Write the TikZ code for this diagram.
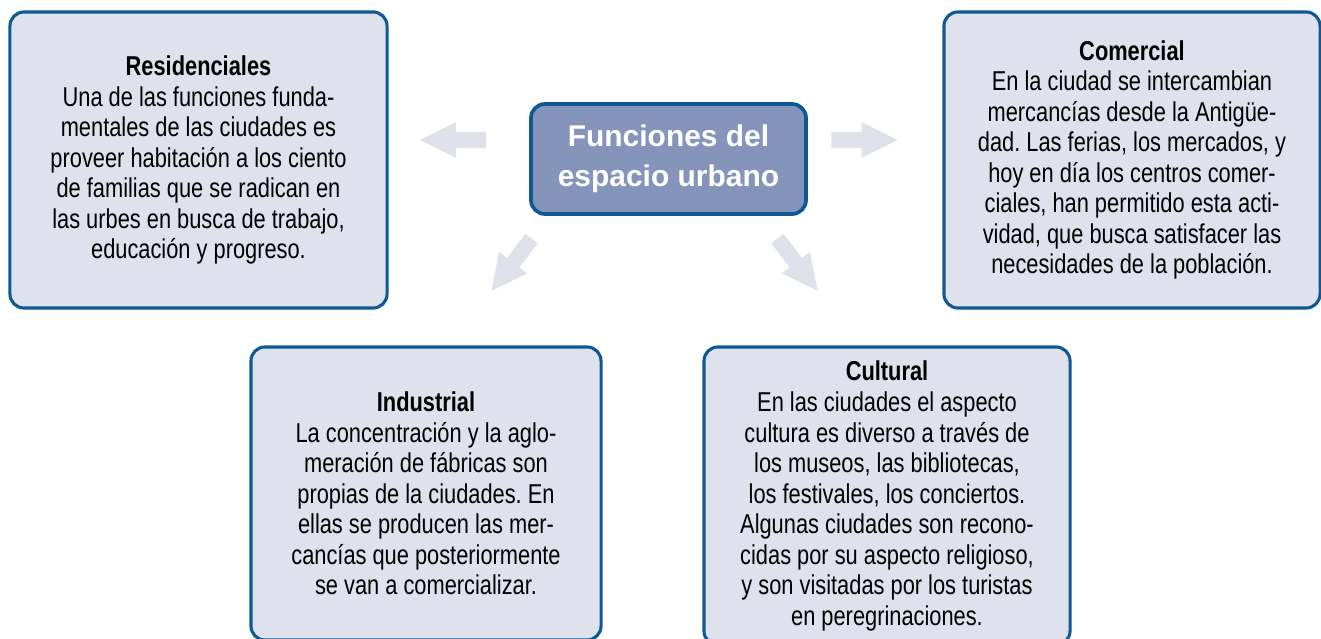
\documentclass[tikz,border=0pt]{standalone}
\usepackage{fontspec}
\setmainfont{Liberation Sans}
\newfontfamily\condfont{Liberation Sans}[FakeStretch=0.8]
\usetikzlibrary{shapes.arrows}
\frenchspacing

\definecolor{boxline}{RGB}{14,88,150}
\definecolor{boxfill}{RGB}{223,226,236}
\definecolor{mainfill}{RGB}{132,148,187}
\definecolor{arrowfill}{RGB}{223,225,234}

\begin{document}
\begin{tikzpicture}[
        x=0.025cm, y=0.025cm,
        box/.style={rectangle, draw=boxline, fill=boxfill, line width=2.2pt, rounded corners=0.35cm, align=center, inner sep=0pt, font=\condfont\fontsize{19.4}{21.7}\selectfont},
        mainbox/.style={rectangle, draw=boxline, fill=mainfill, line width=2.6pt, rounded corners=0.35cm, align=center, inner sep=0pt, text=white, font=\bfseries\fontsize{21.3}{28.5}\selectfont},
        bigarrow/.style={single arrow, fill=arrowfill, draw=none, inner sep=0.1875cm, minimum width=0.875cm, minimum height=1.65cm, single arrow head extend=0.25cm, single arrow tip angle=53}
    ]
    \useasboundingbox (0,0) rectangle (1321,638);

    % Nodes
    \node (center) [mainbox, minimum width=6.875cm, minimum height=2.75cm] at (668.5,479) {Funciones del\\espacio urbano};
    \node (resid) [box, minimum width=9.425cm, minimum height=7.4cm] at (198.5,478) {{\bfseries Residenciales}\\Una de las funciones funda-\\mentales de las ciudades es\\proveer habitación a los ciento\\de familias que se radican en\\las urbes en busca de trabajo,\\educación y progreso.};
    \node (comer) [box, minimum width=9.4cm, minimum height=7.4cm] at (1132,478) {{\bfseries Comercial}\\En la ciudad se intercambian\\mercancías desde la Antigüe-\\dad. Las ferias, los mercados, y\\hoy en día los centros comer-\\ciales, han permitido esta acti-\\vidad, que busca satisfacer las\\necesidades de la población.};
    \node (indus) [box, minimum width=8.75cm, minimum height=7.325cm] at (426,144.5) {{\bfseries Industrial}\\La concentración y la aglo-\\meración de fábricas son\\propias de la ciudades. En\\ellas se producen las mer-\\cancías que posteriormente\\se van a comercializar.};
    \node (cult) [box, minimum width=9.15cm, minimum height=7.45cm] at (887,142) {{\bfseries Cultural}\\En las ciudades el aspecto\\cultura es diverso a través de\\los museos, las bibliotecas,\\los festivales, los conciertos.\\Algunas ciudades son recono-\\cidas por su aspecto religioso,\\y son visitadas por los turistas\\en peregrinaciones.};

    % Arrows
    \node (toresid) [bigarrow, rotate=180] at (461,498) {};
    \node (tocomer) [bigarrow] at (856.5,498) {};
    \node (toindus) [bigarrow, rotate=232.4] at (516.3,379.5) {};
    \node (tocult) [bigarrow, rotate=307.6] at (792.7,379.5) {};
\end{tikzpicture}
\end{document}
